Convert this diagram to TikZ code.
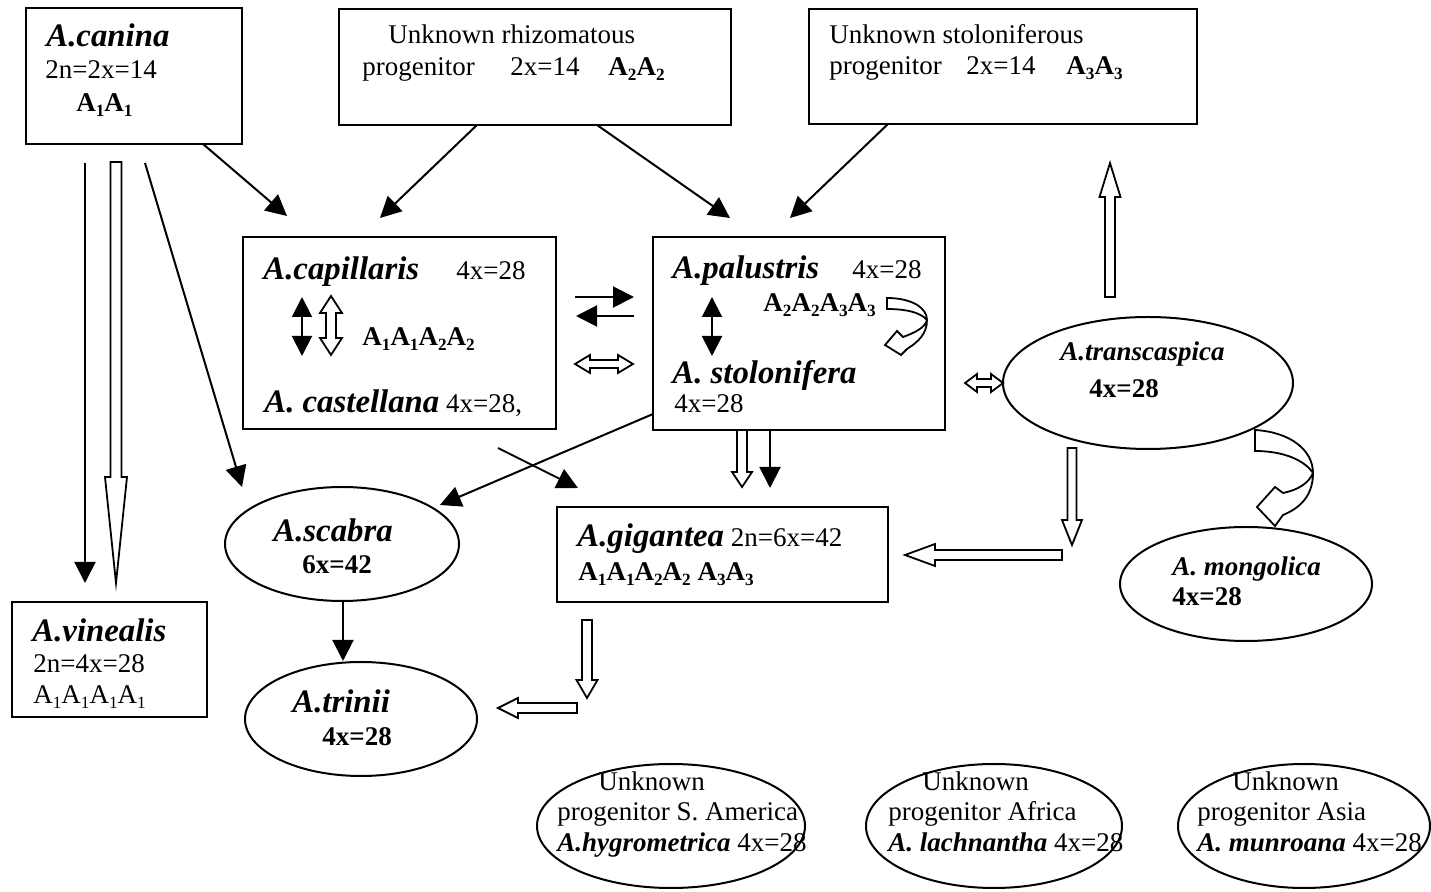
\documentclass[tikz,border=0pt]{standalone}
\usepackage{fontspec}
\setmainfont{Liberation Serif}
\usetikzlibrary{arrows.meta,fit,shapes.geometric,calc}
\newcommand\ttl{\fontsize{16.4}{18}\selectfont\bfseries\itshape}
\newcommand\nrm{\fontsize{13.5}{15}\selectfont}
\newcommand\sbi{\fontsize{13.5}{15}\selectfont\bfseries\itshape}
\newcommand\sub[1]{\raisebox{-0.35ex}{\fontsize{8.6}{9}\selectfont #1}}
\tikzset{
  box/.style={draw, line width=1pt, inner sep=0pt, rectangle},
  ell/.style={draw, line width=1pt, ellipse, inner sep=0pt},
  txt/.style={anchor=base west, inner sep=0pt, font=\nrm},
  arr/.style={line width=1pt, -{Triangle[length=10.5pt,width=10.5pt]}},
  darr/.style={line width=1pt, {Triangle[length=10pt,width=10pt]}-{Triangle[length=10pt,width=10pt]}},
  hol/.style={draw, line width=0.9pt, fill=white, line join=miter}
}
% single block (hollow) arrow: x1,y1,x2,y2, shaft half width, head half width, head length
\newcommand\blk[7]{%
 \pgfmathsetmacro\bkL{veclen(#3-#1,#4-#2)}%
 \pgfmathsetmacro\bkux{(#3-#1)/\bkL}\pgfmathsetmacro\bkuy{(#4-#2)/\bkL}%
 \pgfmathsetmacro\bkbx{#3-#7*(\bkux)}\pgfmathsetmacro\bkby{#4-#7*(\bkuy)}%
 \draw[hol] ({#1-#5*(\bkuy)},{#2+#5*(\bkux)}) -- ({\bkbx-#5*(\bkuy)},{\bkby+#5*(\bkux)})
   -- ({\bkbx-#6*(\bkuy)},{\bkby+#6*(\bkux)}) -- (#3,#4)
   -- ({\bkbx+#6*(\bkuy)},{\bkby-#6*(\bkux)}) -- ({\bkbx+#5*(\bkuy)},{\bkby-#5*(\bkux)})
   -- ({#1+#5*(\bkuy)},{#2-#5*(\bkux)}) -- cycle;}
% double block arrow
\newcommand\dblk[7]{%
 \pgfmathsetmacro\bkL{veclen(#3-#1,#4-#2)}%
 \pgfmathsetmacro\bkux{(#3-#1)/\bkL}\pgfmathsetmacro\bkuy{(#4-#2)/\bkL}%
 \pgfmathsetmacro\bkax{#1+#7*(\bkux)}\pgfmathsetmacro\bkay{#2+#7*(\bkuy)}%
 \pgfmathsetmacro\bkbx{#3-#7*(\bkux)}\pgfmathsetmacro\bkby{#4-#7*(\bkuy)}%
 \draw[hol] (#1,#2) -- ({\bkax-#6*(\bkuy)},{\bkay+#6*(\bkux)}) -- ({\bkax-#5*(\bkuy)},{\bkay+#5*(\bkux)})
   -- ({\bkbx-#5*(\bkuy)},{\bkby+#5*(\bkux)}) -- ({\bkbx-#6*(\bkuy)},{\bkby+#6*(\bkux)}) -- (#3,#4)
   -- ({\bkbx+#6*(\bkuy)},{\bkby-#6*(\bkux)}) -- ({\bkbx+#5*(\bkuy)},{\bkby-#5*(\bkux)})
   -- ({\bkax+#5*(\bkuy)},{\bkay-#5*(\bkux)}) -- ({\bkax+#6*(\bkuy)},{\bkay-#6*(\bkux)}) -- cycle;}
\begin{document}
\begin{tikzpicture}[x=0.5pt,y=-0.5pt]
\useasboundingbox (0,0) rectangle (1431,892);
% ---------- boxes ----------
\node[box, fit={(26,8) (242,144)}] (canina) {};
\node[txt, font=\ttl] (canT) at (46,47) {A.canina};
\node[txt] (canK) at (45,79) {2n=2x=14};
\node[txt, font=\nrm\bfseries] (canG) at (76,112) {A\sub{1}A\sub{1}};

\node[box, fit={(339,9) (731,125)}] (rhizo) {};
\node[txt] (rhT) at (388,44) {Unknown rhizomatous};
\node[txt] (rhP) at (362,76) {progenitor};
\node[txt] (rhK) at (510,76) {2x=14};
\node[txt, font=\nrm\bfseries] (rhG) at (608,76) {A\sub{2}A\sub{2}};

\node[box, fit={(809,9) (1197,124)}] (stolon) {};
\node[txt] (stT) at (829,44) {Unknown stoloniferous};
\node[txt] (stP) at (829,75) {progenitor};
\node[txt] (stK) at (966,75) {2x=14};
\node[txt, font=\nrm\bfseries] (stG) at (1066,75) {A\sub{3}A\sub{3}};

\node[box, fit={(243,237) (556,429)}] (capil) {};
\node[txt, font=\ttl] (caT) at (263,280) {A.capillaris};
\node[txt] (caK) at (456,280) {4x=28};
\node[txt, font=\nrm\bfseries] (caG) at (362,346) {A\sub{1}A\sub{1}A\sub{2}A\sub{2}};
\node[txt] (caC) at (264,413) {{\ttl A. castellana} 4x=28,};

\node[box, fit={(653,237) (945,430)}] (palus) {};
\node[txt, font=\ttl] (paT) at (672,279) {A.palustris};
\node[txt] (paK) at (852,279) {4x=28};
\node[txt, font=\nrm\bfseries] (paG) at (763,312) {A\sub{2}A\sub{2}A\sub{3}A\sub{3}};
\node[txt, font=\ttl] (paS) at (672,384) {A. stolonifera};
\node[txt] (paSK) at (674,413) {4x=28};

\node[box, fit={(557,507) (888,602)}] (gigan) {};
\node[txt] (giT) at (577,547) {{\ttl A.gigantea} 2n=6x=42};
\node[txt, font=\nrm\bfseries] (giG) at (578,581) {A\sub{1}A\sub{1}A\sub{2}A\sub{2} A\sub{3}A\sub{3}};

\node[box, fit={(12,602) (207,717)}] (vineal) {};
\node[txt, font=\ttl] (viT) at (32,642) {A.vinealis};
\node[txt] (viK) at (33,673) {2n=4x=28};
\node[txt] (viG) at (33,704) {A\sub{1}A\sub{1}A\sub{1}A\sub{1}};

% ---------- ellipses ----------
\node[ell, minimum width=145pt, minimum height=66pt] (transc) at (1148,383) {};
\node[txt, font=\sbi] (trT) at (1060,361) {A.transcaspica};
\node[txt, font=\nrm\bfseries] (trK) at (1089,398) {4x=28};

\node[ell, minimum width=126pt, minimum height=57pt] (mongol) at (1246,584) {};
\node[txt, font=\sbi] (moT) at (1172,576) {A. mongolica};
\node[txt, font=\nrm\bfseries] (moK) at (1172,606) {4x=28};

\node[ell, minimum width=117pt, minimum height=57pt] (scabra) at (342,544) {};
\node[txt, font=\ttl] (scT) at (273,542) {A.scabra};
\node[txt, font=\nrm\bfseries] (scK) at (302,574) {6x=42};

\node[ell, minimum width=116pt, minimum height=57pt] (trinii) at (361,719) {};
\node[txt, font=\ttl] (tiT) at (292,713) {A.trinii};
\node[txt, font=\nrm\bfseries] (tiK) at (322,746) {4x=28};

\node[ell, minimum width=134pt, minimum height=62pt] (samer) at (671,826) {};
\node[txt] (saU) at (598,791) {Unknown};
\node[txt] (saP) at (557,821) {progenitor S. America};
\node[txt] (saS) at (557,852) {{\sbi A.hygrometrica} 4x=28};

\node[ell, minimum width=128pt, minimum height=62pt] (africa) at (994,826) {};
\node[txt] (afU) at (922,791) {Unknown};
\node[txt] (afP) at (888,821) {progenitor Africa};
\node[txt] (afS) at (888,852) {{\sbi A. lachnantha} 4x=28};

\node[ell, minimum width=126pt, minimum height=62pt] (asia) at (1304,826) {};
\node[txt] (asU) at (1232,791) {Unknown};
\node[txt] (asP) at (1197,821) {progenitor Asia};
\node[txt] (asS) at (1197,852) {{\sbi A. munroana} 4x=28};

% ---------- connector end points ----------
\coordinate (c1s) at (85,163);   \coordinate (c1e) at (85,583);
\coordinate (c2s) at (145,163);  \coordinate (c2e) at (242,487);
\coordinate (c3s) at (203,144);  \coordinate (c3e) at (287,216);
\coordinate (r1s) at (477,125);  \coordinate (r1e) at (380,218);
\coordinate (r2s) at (597,125);  \coordinate (r2e) at (730,218);
\coordinate (s1s) at (888,124);  \coordinate (s1e) at (790,218);
\coordinate (h1s) at (575,297);  \coordinate (h1e) at (634,297);
\coordinate (h2s) at (634,316);  \coordinate (h2e) at (576,316);
\coordinate (p1s) at (653,414);  \coordinate (p1e) at (440,505);
\coordinate (g1s) at (498,448);  \coordinate (g1e) at (578,488);
\coordinate (g2s) at (770,430);  \coordinate (g2e) at (770,488);
\coordinate (t1s) at (343,602);  \coordinate (t1e) at (343,661);
\coordinate (d1s) at (302,297);  \coordinate (d1e) at (302,356);
\coordinate (d2s) at (712,297);  \coordinate (d2e) at (712,356);

% ---------- black arrows ----------
\draw[arr] (c1s) -- (c1e);
\draw[arr] (c2s) -- (c2e);
\draw[arr] (c3s) -- (c3e);
\draw[arr] (r1s) -- (r1e);
\draw[arr] (r2s) -- (r2e);
\draw[arr] (s1s) -- (s1e);
\draw[arr] (h1s) -- (h1e);
\draw[arr] (h2s) -- (h2e);
\draw[arr] (p1s) -- (p1e);
\draw[arr] (g1s) -- (g1e);
\draw[arr] (g2s) -- (g2e);
\draw[arr] (t1s) -- (t1e);
\draw[darr] (d1s) -- (d1e);
\draw[darr] (d2s) -- (d2e);

% ---------- hollow block arrows ----------
\blk{116}{162}{116}{583}{5.5}{11}{106}
\dblk{331}{296}{331}{355}{5}{11}{17}
\dblk{575}{364}{633}{364}{4}{9}{15}
\dblk{965}{383}{1003}{383}{4}{9}{12}
\blk{742}{430}{742}{487}{5}{10}{15}
\blk{1110}{297}{1110}{163}{5}{10.5}{34}
\blk{1072}{448}{1072}{545}{4.5}{10}{25}
\blk{1062}{555}{905}{555}{5}{11}{30}
\blk{587}{620}{587}{698}{5}{10.5}{18}
\blk{577}{708}{498}{708}{5}{10}{20}

% ---------- curved hollow arrows ----------
\draw[hol] (887,298) .. controls (912,298) and (927,308) .. (927,320)
  .. controls (927,334) and (918,342) .. (907,349) -- (901,355) -- (885,345) -- (897,331) -- (903,337)
  .. controls (914,333) and (925,328) .. (927,320)
  .. controls (922,314) and (910,309) .. (887,309) -- cycle;
\draw[hol] (1255,430) .. controls (1290,432) and (1313,450) .. (1313,473)
  .. controls (1313,496) and (1300,508) .. (1283,515) -- (1275,526) -- (1257,507) -- (1275,487) -- (1283,493)
  .. controls (1298,490) and (1309,483) .. (1313,473)
  .. controls (1305,461) and (1285,451) .. (1255,451) -- cycle;
\end{tikzpicture}
\end{document}
